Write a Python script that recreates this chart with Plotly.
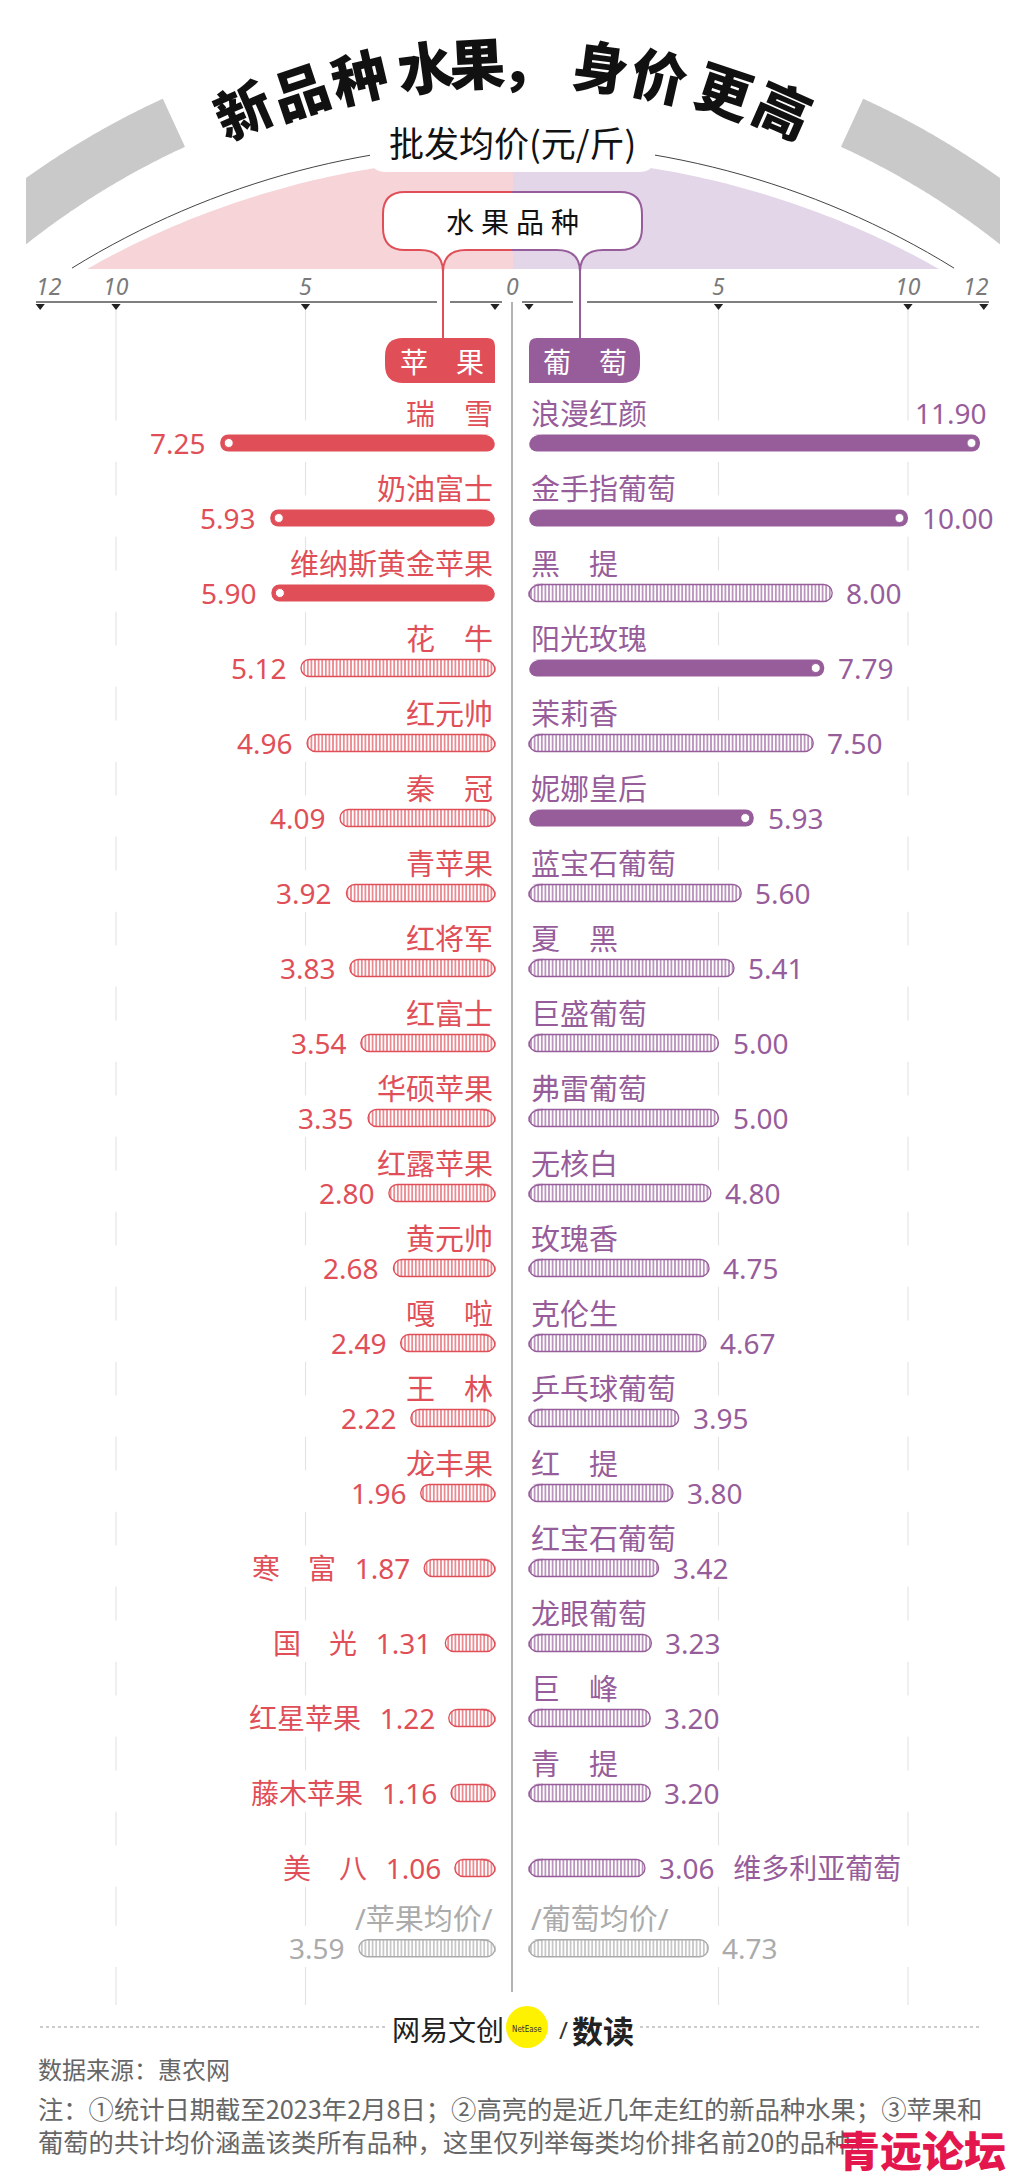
import math
import plotly.graph_objects as go

# ------------------------------------------------------------------ data
apple_names = ["瑞　雪", "奶油富士", "维纳斯黄金苹果", "花　牛", "红元帅", "秦　冠", "青苹果",
               "红将军", "红富士", "华硕苹果", "红露苹果", "黄元帅", "嘎　啦", "王　林", "龙丰果",
               "寒　富", "国　光", "红星苹果", "藤木苹果", "美　八"]
apple_prices = [7.25, 5.93, 5.90, 5.12, 4.96, 4.09, 3.92, 3.83, 3.54, 3.35, 2.80, 2.68, 2.49,
                2.22, 1.96, 1.87, 1.31, 1.22, 1.16, 1.06]
apple_highlight = [True, True, True, False, False, False, False, False, False, False,
                   False, False, False, False, False, False, False, False, False, False]

grape_names = ["浪漫红颜", "金手指葡萄", "黑　提", "阳光玫瑰", "茉莉香", "妮娜皇后", "蓝宝石葡萄",
               "夏　黑", "巨盛葡萄", "弗雷葡萄", "无核白", "玫瑰香", "克伦生", "乒乓球葡萄",
               "红　提", "红宝石葡萄", "龙眼葡萄", "巨　峰", "青　提", "维多利亚葡萄"]
grape_prices = [11.90, 10.00, 8.00, 7.79, 7.50, 5.93, 5.60, 5.41, 5.00, 5.00, 4.80, 4.75, 4.67,
                3.95, 3.80, 3.42, 3.23, 3.20, 3.20, 3.06]
grape_highlight = [True, True, False, True, False, True, False, False, False, False,
                   False, False, False, False, False, False, False, False, False, False]

avg_labels = ["/苹果均价/", "/葡萄均价/"]
avg_prices = [3.59, 4.73]

axis_ticks = [12, 10, 5, 0]
grid_ticks = [10, 5]

title_text = "新品种水果，身价更高"
unit_text = "批发均价(元/斤)"
category_text = "水\u2005果\u2005品\u2005种"
side_labels = ["苹　果", "葡　萄"]
source_text = "数据来源：惠农网"
note_lines = ["注：①统计日期截至2023年2月8日；②高亮的是近几年走红的新品种水果；③苹果和",
              "葡萄的共计均价涵盖该类所有品种，这里仅列举每类均价排名前20的品种。"]

# ------------------------------------------------------------------ layout constants
W, H = 1024, 2179
PPU = 37.9            # pixels per yuan
CX = 512              # centre pixel
G = 17 / PPU          # half gap between the two zero lines (data units)
ROW0, PITCH = 443, 75
BAR_H = 17 / PITCH
AVG_ROW = len(apple_prices) + 0.07
NAME_DY = -0.4
NAME_SIZE = 29
VAL_SIZE = 28

RED = "#e04f58"
PURPLE = "#975d9b"
GRAY = "#ababab"
PINK_BG = "#f6d4d7"
LAV_BG = "#e3d6e8"
BAND_GRAY = "#c9c9c9"

CJK = "Noto Sans CJK SC"
NUM = "Noto Sans, Noto Sans CJK SC"


def X(px):
    return (px - CX) / PPU


def Y(py):
    return (py - ROW0) / PITCH


def PX(px):
    return px / W


def PY(py):
    return 1 - py / H


def ppath(cmds, conv=True):
    out = []
    for c in cmds:
        if c[0] == "Z":
            out.append("Z")
            continue
        nums = c[1:]
        pts = []
        for i in range(0, len(nums), 2):
            if conv:
                pts.append(f"{PX(nums[i]):.5f},{PY(nums[i+1]):.5f}")
            else:
                pts.append(f"{nums[i]:.5f},{nums[i+1]:.5f}")
        out.append(c[0] + " ".join(pts))
    return " ".join(out)


def arc(cx, cy, r, t0, t1, n=60):
    pts = []
    for i in range(n + 1):
        t = math.radians(t0 + (t1 - t0) * i / n)
        pts.append((cx + r * math.sin(t), cy - r * math.cos(t)))
    return pts


def poly_cmds(pts, close=True):
    cmds = [("M", pts[0][0], pts[0][1])] + [("L", p[0], p[1]) for p in pts[1:]]
    if close:
        cmds.append(("Z",))
    return cmds


shapes = []
annotations = []


def ann(text, x, y, xref="x", yref="y", size=26, color="#333", family=NUM,
        xanchor="center", yanchor="middle", xshift=0, yshift=0, angle=0, weight=None, style=None):
    font = dict(size=size, color=color, family=family)
    if weight is not None:
        font["weight"] = weight
    if style is not None:
        font["style"] = style
    annotations.append(dict(text=text, x=x, y=y, xref=xref, yref=yref, showarrow=False,
                            font=font, xanchor=xanchor, yanchor=yanchor, xshift=xshift,
                            yshift=yshift, textangle=angle))


# ------------------------------------------------------------------ top decoration (paper)
RC = (513, 860)
r_in, r_out = 785, 838
t_cut = 24.7
t_out = math.degrees(math.asin((RC[0] - 26) / r_out))
t_inn = math.degrees(math.asin((RC[0] - 26) / r_in))
left_band = arc(RC[0], RC[1], r_out, -t_cut, -t_out) + arc(RC[0], RC[1], r_in, -t_inn, -t_cut)
right_band = arc(RC[0], RC[1], r_out, t_cut, t_out) + arc(RC[0], RC[1], r_in, t_inn, t_cut)
for band in (left_band, right_band):
    shapes.append(dict(type="path", xref="paper", yref="paper", path=ppath(poly_cmds(band)),
                       fillcolor=BAND_GRAY, line=dict(width=0), layer="below"))

DC = (513, 1023)
DR = 866
td = math.degrees(math.asin(426 / DR))
left_dome = arc(DC[0], DC[1], DR, 0, -td) + [(DC[0], 269)]
right_dome = arc(DC[0], DC[1], DR, 0, td) + [(DC[0], 269)]
shapes.append(dict(type="path", xref="paper", yref="paper", path=ppath(poly_cmds(left_dome)),
                   fillcolor=PINK_BG, line=dict(width=0), layer="below"))
shapes.append(dict(type="path", xref="paper", yref="paper", path=ppath(poly_cmds(right_dome)),
                   fillcolor=LAV_BG, line=dict(width=0), layer="below"))

ta = math.degrees(math.asin(441 / 840))
shapes.append(dict(type="path", xref="paper", yref="paper",
                   path=ppath(poly_cmds(arc(513, 983, 840, -ta, ta), close=False)),
                   line=dict(color="#444", width=1), layer="below"))

shapes.append(dict(type="path", xref="paper", yref="paper",
                   path=ppath([("M", 370, 112), ("L", 655, 112), ("L", 655, 156),
                               ("Q", 655, 172, 639, 172), ("L", 386, 172),
                               ("Q", 370, 172, 370, 156), ("Z",)]),
                   fillcolor="white", line=dict(width=0), layer="below"))

bubble_fill = [("M", 405, 192), ("L", 620, 192), ("Q", 642, 192, 642, 214), ("L", 642, 228),
               ("Q", 642, 250, 620, 250), ("L", 603, 250), ("Q", 580, 250, 580, 272),
               ("Q", 580, 250, 557, 250), ("L", 466, 250), ("Q", 443, 250, 443, 272),
               ("Q", 443, 250, 420, 250), ("L", 405, 250), ("Q", 383, 250, 383, 228),
               ("L", 383, 214), ("Q", 383, 192, 405, 192), ("Z",)]
shapes.append(dict(type="path", xref="paper", yref="paper", path=ppath(bubble_fill),
                   fillcolor="white", line=dict(width=0), layer="below"))
red_border = [("M", 512, 192), ("L", 405, 192), ("Q", 383, 192, 383, 214), ("L", 383, 228),
              ("Q", 383, 250, 405, 250), ("L", 420, 250), ("Q", 443, 250, 443, 272),
              ("L", 443, 338), ("M", 512, 250), ("L", 466, 250), ("Q", 443, 250, 443, 272)]
pur_border = [("M", 512, 192), ("L", 620, 192), ("Q", 642, 192, 642, 214), ("L", 642, 228),
              ("Q", 642, 250, 620, 250), ("L", 603, 250), ("Q", 580, 250, 580, 272),
              ("L", 580, 338), ("M", 512, 250), ("L", 557, 250), ("Q", 580, 250, 580, 272)]
shapes.append(dict(type="path", xref="paper", yref="paper", path=ppath(red_border),
                   line=dict(color=RED, width=2), layer="below"))
shapes.append(dict(type="path", xref="paper", yref="paper", path=ppath(pur_border),
                   line=dict(color=PURPLE, width=2), layer="below"))

apple_box = [("M", 403, 338), ("L", 487, 338), ("Q", 495, 338, 495, 346), ("L", 495, 383),
             ("L", 403, 383), ("Q", 385, 383, 385, 365), ("L", 385, 356),
             ("Q", 385, 338, 403, 338), ("Z",)]
grape_box = [("M", 529, 346), ("Q", 529, 338, 537, 338), ("L", 622, 338),
             ("Q", 640, 338, 640, 356), ("L", 640, 365), ("Q", 640, 383, 622, 383),
             ("L", 529, 383), ("Z",)]
shapes.append(dict(type="path", xref="paper", yref="paper", path=ppath(apple_box),
                   fillcolor=RED, line=dict(width=0), layer="below"))
shapes.append(dict(type="path", xref="paper", yref="paper", path=ppath(grape_box),
                   fillcolor=PURPLE, line=dict(width=0), layer="below"))

for a, b in [(36, 437), (450, 502), (522, 573), (587, 989)]:
    shapes.append(dict(type="line", xref="paper", yref="paper", x0=PX(a), x1=PX(b),
                       y0=PY(302), y1=PY(302), line=dict(color="#555", width=1.3), layer="below"))

# ------------------------------------------------------------------ grid, masks, centre line (data)
XL, XR = X(0), X(W)
for t in grid_ticks:
    for s in (-1, 1):
        shapes.append(dict(type="line", xref="x", yref="y", x0=s * (G + t), x1=s * (G + t),
                           y0=Y(310), y1=Y(2005), line=dict(color="#e4e4e4", width=1.2),
                           layer="below"))
for r in list(range(len(apple_prices))) + [AVG_ROW]:
    shapes.append(dict(type="rect", xref="x", yref="y", x0=XL, x1=XR, y0=r - 0.3, y1=r + 0.25,
                       fillcolor="white", line=dict(width=0), layer="below"))
shapes.append(dict(type="line", xref="x", yref="y", x0=0, x1=0, y0=Y(302), y1=Y(1992),
                   line=dict(color="#9a9a9a", width=1.5), layer="below"))

# ------------------------------------------------------------------ traces
rows = list(range(len(apple_prices)))
fig = go.Figure()


def add_bars(vals, ys, sign, color, hl):
    fig.add_trace(go.Bar(
        x=[sign * v for v in vals], y=ys, base=sign * G, orientation="h", width=BAR_H,
        marker=dict(color=color, cornerradius="50%",
                    line=dict(color=color, width=[0 if h else 1.3 for h in hl]),
                    pattern=dict(shape=["" if h else "|" for h in hl], fgcolor=color,
                                 bgcolor="white", size=3.6, solidity=0.33, fillmode="replace")),
        hoverinfo="skip", showlegend=False))
    rx, ry = 14 / PPU, 12 / PITCH
    x0 = sign * G
    for y, h in zip(ys, hl):
        top = y - BAR_H / 2
        xi = x0 + sign * rx
        shapes.append(dict(type="path", xref="x", yref="y",
                           path=ppath([("M", x0, top), ("L", x0, top + ry),
                                       ("Q", x0, top, xi, top), ("Z",)], conv=False),
                           fillcolor="white", line=dict(width=0), layer="above"))
        if not h:
            shapes.append(dict(type="path", xref="x", yref="y",
                               path=ppath([("M", x0, top + ry), ("Q", x0, top, xi, top)], conv=False),
                               line=dict(color=color, width=1.3), layer="above"))
    hx = [sign * (G + v - 8.5 / PPU) for v, h in zip(vals, hl) if h]
    hy = [y for y, h in zip(ys, hl) if h]
    if hx:
        fig.add_trace(go.Scatter(x=hx, y=hy, mode="markers", hoverinfo="skip", showlegend=False,
                                 marker=dict(size=9, color="white", line=dict(color=color, width=1))))


add_bars(apple_prices, rows, -1, RED, apple_highlight)
add_bars(grape_prices, rows, 1, PURPLE, grape_highlight)
add_bars([avg_prices[0]], [AVG_ROW], -1, GRAY, [False])
add_bars([avg_prices[1]], [AVG_ROW], 1, GRAY, [False])

tri_x = [-(G + t) for t in axis_ticks] + [G + t for t in axis_ticks]
fig.add_trace(go.Scatter(x=tri_x, y=[Y(306)] * len(tri_x), mode="markers", hoverinfo="skip",
                         showlegend=False,
                         marker=dict(symbol="triangle-down", size=8, color="#222")))

# ------------------------------------------------------------------ text
title_x = [242, 300, 359, 425, 477, 529, 601, 660, 725, 784]
TR = 800
for ch, tx in zip(title_text, title_x):
    th = math.asin((tx - 513) / TR)
    ty = 860 - TR * math.cos(th)
    ann(ch, PX(tx), PY(ty), xref="paper", yref="paper", size=56, color="#111", family=CJK,
        angle=math.degrees(th) * 1.2, weight=900)

ann(unit_text, PX(512), PY(142), xref="paper", yref="paper", size=35, color="#111", family=CJK)
ann(category_text, PX(512), PY(221), xref="paper", yref="paper", size=28, color="#111", family=CJK)
ann(side_labels[0], PX(442), PY(361), xref="paper", yref="paper", size=28, color="white", family=CJK)
ann(side_labels[1], PX(585), PY(361), xref="paper", yref="paper", size=28, color="white", family=CJK)

TICK_Y = PY(286)
for t in axis_ticks:
    if t == 0:
        ann("0", 0, TICK_Y, yref="paper", size=23, color="#7a7a7a", style="italic")
        continue
    for s in (-1, 1):
        xa, xs = "center", 0
        if t == max(axis_ticks):
            xa, xs = ("left", -6) if s < 0 else ("right", 7)
        ann(str(t), s * (G + t), TICK_Y, yref="paper", size=23, color="#7a7a7a",
            xanchor=xa, xshift=xs, style="italic")

INLINE_FROM = 15
SP = "\u2002\u2009"
for i, (n, v) in enumerate(zip(apple_names, apple_prices)):
    if i < INLINE_FROM:
        ann(n, -G, i + NAME_DY, size=NAME_SIZE, color=RED, xanchor="right")
        ann(f"{v:.2f}", -(G + v), i, size=VAL_SIZE, color=RED, xanchor="right", xshift=-12)
    else:
        ann(f"{n}{SP}{v:.2f}", -(G + v), i, size=VAL_SIZE, color=RED, xanchor="right", xshift=-12)

for i, (n, v) in enumerate(zip(grape_names, grape_prices)):
    last = i == len(grape_names) - 1
    if not last:
        ann(n, G, i + NAME_DY, size=NAME_SIZE, color=PURPLE, xanchor="left")
        end_px = CX + (G + v) * PPU + 12 + 75
        if end_px > W:
            ann(f"{v:.2f}", G + v, i + NAME_DY, size=VAL_SIZE, color=PURPLE, xanchor="right", xshift=9)
        else:
            ann(f"{v:.2f}", G + v, i, size=VAL_SIZE, color=PURPLE, xanchor="left", xshift=12)
    else:
        ann(f"{v:.2f}{SP}{n}", G + v, i, size=VAL_SIZE, color=PURPLE, xanchor="left", xshift=12)

ann(avg_labels[0], -G, AVG_ROW + NAME_DY, size=NAME_SIZE, color=GRAY, xanchor="right")
ann(avg_labels[1], G, AVG_ROW + NAME_DY, size=NAME_SIZE, color=GRAY, xanchor="left")
ann(f"{avg_prices[0]:.2f}", -(G + avg_prices[0]), AVG_ROW, size=VAL_SIZE, color=GRAY,
    xanchor="right", xshift=-12)
ann(f"{avg_prices[1]:.2f}", G + avg_prices[1], AVG_ROW, size=VAL_SIZE, color=GRAY,
    xanchor="left", xshift=12)

# ------------------------------------------------------------------ footer
for a, b in [(40, 386), (640, 982)]:
    shapes.append(dict(type="line", xref="paper", yref="paper", x0=PX(a), x1=PX(b),
                       y0=PY(2027), y1=PY(2027), line=dict(color="#999", width=1.2, dash="dot"),
                       layer="below"))
shapes.append(dict(type="circle", xref="paper", yref="paper", x0=PX(506), x1=PX(548),
                   y0=PY(2048), y1=PY(2006), fillcolor="#fff200", line=dict(width=0), layer="below"))
ann("网易文创", PX(448), PY(2029), xref="paper", yref="paper", size=28, color="#222", family=CJK)
ann("NetEase", PX(527), PY(2029), xref="paper", yref="paper", size=8, color="#333",
    family="DejaVu Sans Condensed, DejaVu Sans")
ann("/", PX(563), PY(2029), xref="paper", yref="paper", size=24, color="#333", family=NUM)
ann("数读", PX(603), PY(2029), xref="paper", yref="paper", size=31, color="#222", family=CJK,
    weight="bold")
ann(source_text, PX(36), PY(2068), xref="paper", yref="paper", size=24, color="#666",
    family=CJK, xanchor="left")
ann(note_lines[0], PX(36), PY(2108), xref="paper", yref="paper", size=25.3, color="#666",
    family=CJK, xanchor="left")
ann(note_lines[1], PX(36), PY(2141), xref="paper", yref="paper", size=25.3, color="#666",
    family=CJK, xanchor="left")
ann("青远论坛", PX(922), PY(2148), xref="paper", yref="paper", size=42, color="#e3174d",
    family=CJK, weight=900)

# ------------------------------------------------------------------ layout
fig.update_layout(
    width=W, height=H, autosize=False,
    margin=dict(l=0, r=0, t=0, b=0, pad=0),
    paper_bgcolor="white", plot_bgcolor="rgba(0,0,0,0)",
    barmode="overlay", showlegend=False,
    xaxis=dict(range=[X(0), X(W)], visible=False, fixedrange=True, domain=[0, 1]),
    yaxis=dict(range=[Y(H), Y(0)], visible=False, fixedrange=True, domain=[0, 1]),
    shapes=shapes, annotations=annotations,
    font=dict(family=NUM),
)

fig.write_html("out.html", config=dict(displayModeBar=False, staticPlot=True))
